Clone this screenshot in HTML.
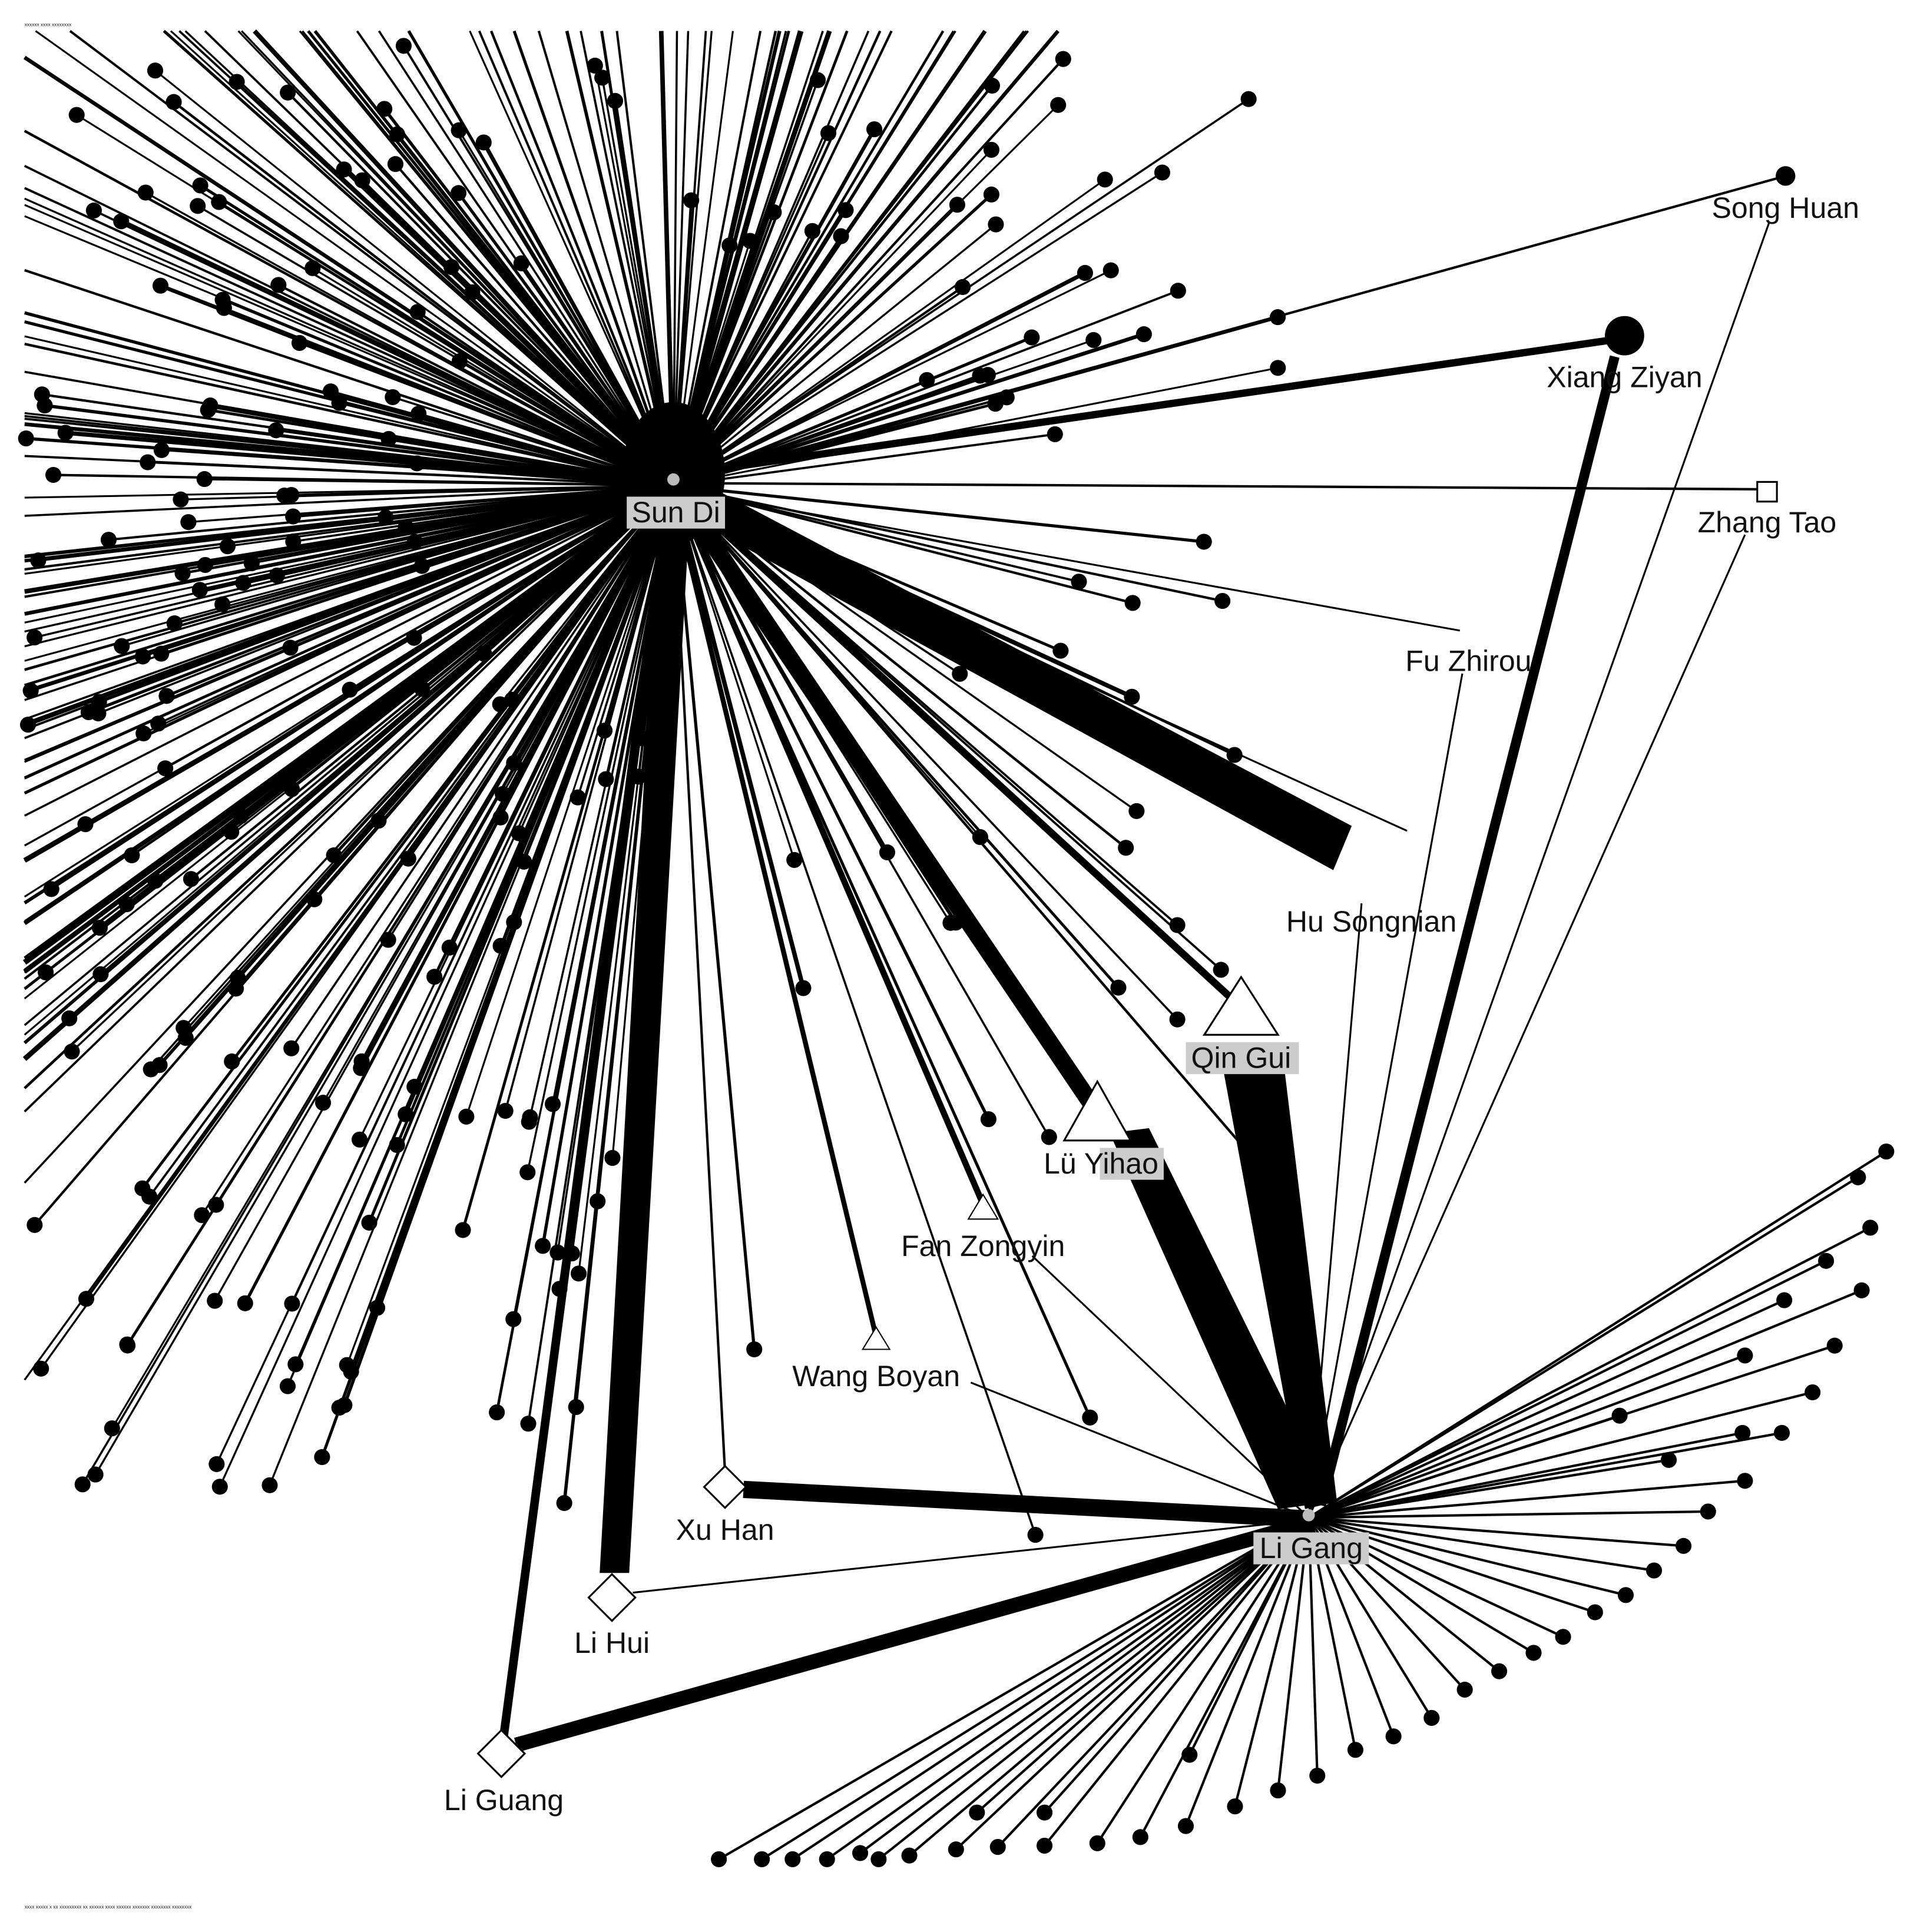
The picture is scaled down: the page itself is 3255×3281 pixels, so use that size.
<!DOCTYPE html>
<html><head><meta charset="utf-8">
<style>
html,body{margin:0;padding:0;background:#fff;}
svg{display:block;}
text{font-family:"Liberation Sans",sans-serif;font-size:24px;fill:#111;}
</style></head>
<body>
<svg id="s" width="3255" height="3281" viewBox="0 0 1560 1572" xmlns="http://www.w3.org/2000/svg">
<rect width="1560" height="1572" fill="#fff"/>
<g id="spokes" stroke="#000" stroke-linecap="butt"></g>
<g id="lg" stroke="#000" stroke-width="2"></g>
<g stroke="#000" fill="none">
<polygon points="548,380 560,420 1085,708 1100,672" fill="#000" stroke="none"/>
<line x1="548" y1="395" x2="1005" y2="815" stroke-width="6"/>
<line x1="548" y1="395" x2="888" y2="898" stroke-width="14"/>
<polygon points="535,440 560,440 512,1280 488,1280" fill="#000" stroke="none"/>
<line x1="540" y1="430" x2="410" y2="1412" stroke-width="7"/>
<line x1="560" y1="385" x2="1315" y2="276" stroke-width="6"/>
<line x1="560" y1="390" x2="1453" y2="143" stroke-width="2"/>
<line x1="560" y1="393" x2="1436" y2="398" stroke-width="2"/>
<line x1="560" y1="400" x2="1188" y2="513" stroke-width="1.5"/>
<line x1="560" y1="410" x2="1145" y2="676" stroke-width="1.5"/>
<line x1="555" y1="410" x2="800" y2="980" stroke-width="5"/>
<line x1="550" y1="410" x2="713" y2="1088" stroke-width="4"/>
<line x1="548" y1="410" x2="590" y2="1198" stroke-width="2"/>
<polygon points="995,868 1045,868 1088,1222 1062,1228" fill="#000" stroke="none"/>
<polygon points="903,922 935,918 1085,1222 1040,1228" fill="#000" stroke="none"/>
<line x1="1075" y1="1225" x2="1314" y2="290" stroke-width="8"/>
<line x1="605" y1="1212" x2="1065" y2="1236" stroke-width="14"/>
<line x1="420" y1="1420" x2="1062" y2="1240" stroke-width="12"/>
<line x1="515" y1="1296" x2="1062" y2="1237" stroke-width="1.5"/>
<line x1="1065" y1="1235" x2="1440" y2="180" stroke-width="1.5"/>
<line x1="1065" y1="1235" x2="1420" y2="435" stroke-width="1.5"/>
<line x1="1065" y1="1235" x2="1190" y2="548" stroke-width="1.5"/>
<line x1="1065" y1="1235" x2="1108" y2="735" stroke-width="1.5"/>
<line x1="1065" y1="1235" x2="840" y2="1022" stroke-width="1.5"/>
<line x1="1065" y1="1235" x2="790" y2="1125" stroke-width="1.5"/>
</g>
<ellipse cx="548" cy="385" rx="42" ry="58" fill="#000"/>
<circle cx="1322" cy="273" r="16" fill="#000"/>
<circle cx="1453" cy="143" r="8" fill="#000"/>
<rect x="1430" y="392" width="16" height="16" fill="#fff" stroke="#000" stroke-width="1.5"/>
<polygon points="1010,795 980,842 1040,842" fill="#fff" stroke="#000" stroke-width="1.5"/>
<polygon points="893,880 866,928 920,928" fill="#fff" stroke="#000" stroke-width="1.5"/>
<polygon points="800,972 788,992 812,992" fill="#fff" stroke="#000" stroke-width="1"/>
<polygon points="713,1080 702,1098 724,1098" fill="#fff" stroke="#000" stroke-width="1"/>
<polygon points="590,1193 607,1210 590,1227 573,1210" fill="#fff" stroke="#000" stroke-width="1.5"/>
<polygon points="498,1281 517,1300 498,1319 479,1300" fill="#fff" stroke="#000" stroke-width="1.5"/>
<polygon points="408,1408 427,1427 408,1446 389,1427" fill="#fff" stroke="#000" stroke-width="1.5"/>
<circle cx="548" cy="390" r="5" fill="#bbb"/>
<circle cx="1065" cy="1233" r="5" fill="#bbb"/>
<rect x="510" y="404" width="80" height="26" fill="#ccc"/>
<rect x="965" y="848" width="92" height="26" fill="#ccc"/>
<rect x="895" y="934" width="52" height="26" fill="#ccc"/>
<rect x="1020" y="1247" width="94" height="26" fill="#ccc"/>
<text x="550" y="425" text-anchor="middle">Sun Di</text>
<text x="1453" y="177" text-anchor="middle">Song Huan</text>
<text x="1322" y="315" text-anchor="middle">Xiang Ziyan</text>
<text x="1438" y="433" text-anchor="middle">Zhang Tao</text>
<text x="1195" y="546" text-anchor="middle">Fu Zhirou</text>
<text x="1116" y="758" text-anchor="middle">Hu Songnian</text>
<text x="1010" y="869" text-anchor="middle">Qin Gui</text>
<text x="896" y="955" text-anchor="middle">Lü Yihao</text>
<text x="800" y="1022" text-anchor="middle">Fan Zongyin</text>
<text x="713" y="1128" text-anchor="middle">Wang Boyan</text>
<text x="590" y="1253" text-anchor="middle">Xu Han</text>
<text x="498" y="1345" text-anchor="middle">Li Hui</text>
<text x="410" y="1473" text-anchor="middle">Li Guang</text>
<text x="1067" y="1268" text-anchor="middle">Li Gang</text>
<text x="20" y="21" style="font-size:4px">xxxxxx xxxx xxxxxxxx</text>
<text x="20" y="1553" style="font-size:4px">xxxx xxxxx x xx xxxxxxxxx xx xxxxxx xxxx xxxxxx xxxxxxx xxxxxxxx xxxxxxxx</text>
</svg>
<script>
(function(){
var NS="http://www.w3.org/2000/svg";
var seed=777;function r(){seed=(seed*16807)%2147483647;return (seed-1)/2147483646;}
var g=document.getElementById("spokes");
var cx=548,cy=395;
function add(x1,y1,x2,y2,w,dot,par){
 var l=document.createElementNS(NS,"line");
 l.setAttribute("x1",x1);l.setAttribute("y1",y1);l.setAttribute("x2",x2);l.setAttribute("y2",y2);
 l.setAttribute("stroke-width",w);par.appendChild(l);
 if(dot){var c=document.createElementNS(NS,"circle");c.setAttribute("cx",x2);c.setAttribute("cy",y2);c.setAttribute("r",6.5);c.setAttribute("fill","#000");c.setAttribute("stroke","none");par.appendChild(c);}
}
for(var i=0;i<380;i++){
 var a,t=r();
 if(t<0.07){a=20+r()*65;}
 else if(t<0.55){a=95+r()*85;}
 else if(t<0.78){a=180+r()*60;}
 else if(t<0.93){a=240+r()*75;}
 else {a=315+r()*60;}
 var rad=a*Math.PI/180;
 var dx=Math.cos(rad),dy=Math.sin(rad);
 var R=200+r()*750,clip=false;
 if(dx>0.05){var km=(1060-cx)/dx;if(R>km)R=km*(0.45+0.55*r());}
 if(dy>0.05){var kb=(1250-cy)/dy;if(R>kb)R=kb*(0.6+0.4*r());}
 var x=cx+dx*R,y=cy+dy*R;
 if(x<20){var k=(20-cx)/dx;x=20;y=cy+dy*k;clip=true;R=k;}
 if(y<25){var k2=(25-cy)/dy;x=cx+dx*k2;y=25;clip=true;}
 var w=1.5+r()*r()*r()*4;
 add(cx+dx*10,cy+dy*10,x.toFixed(1),y.toFixed(1),w.toFixed(1),!clip,g);
}
var lg=document.getElementById("lg");
var pts=[[1535,937],[1512,958],[1522,999],[1486,1026],[1515,1050],[1452,1058],[1493,1095],[1420,1103],[1475,1133],[1450,1166],[1418,1166],[1420,1205],[1390,1230],[1370,1258],[1346,1278],[1323,1298],[1298,1312],[1272,1332],[1248,1345],[1220,1360],[1192,1375],[1165,1398],[1134,1413],[1103,1424],[1072,1445],[1040,1457],[1005,1470],[965,1486],[928,1495],[893,1500],[850,1502],[812,1503],[778,1505],[740,1510],[715,1513],[700,1508],[673,1513],[645,1513],[620,1513],[585,1513],[795,1475],[850,1475],[968,1428],[1318,1152],[1358,1188]];
pts.forEach(function(p){add(1065,1235,p[0],p[1],2,true,lg);});
})();
</script>
</body></html>
